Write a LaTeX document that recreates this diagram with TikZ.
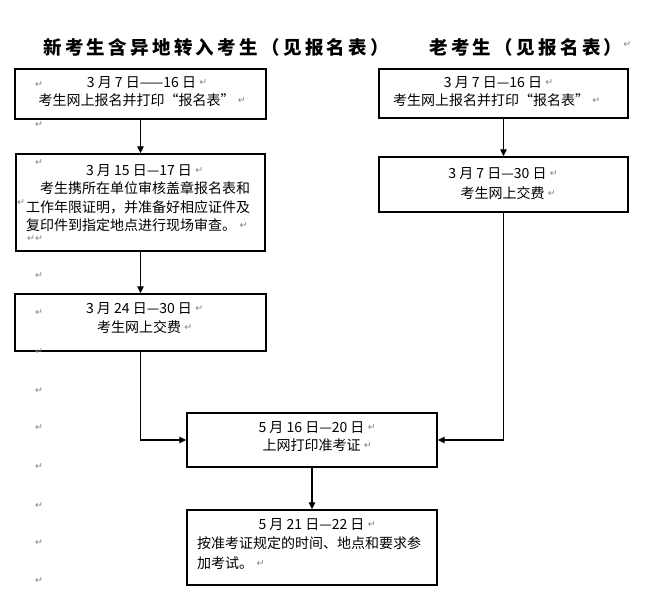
\documentclass[tikz,border=0pt]{standalone}
\usepackage{fontspec}
\setmainfont{Noto Sans CJK SC}
\newfontfamily\titlefont{Noto Sans CJK SC}[LetterSpace=18]
\newfontfamily\symfont{DejaVu Sans}
\usetikzlibrary{arrows.meta}
\definecolor{markgray}{RGB}{130,130,130}
\newcommand\retfont{\symfont\fontsize{9.5}{9.5}\selectfont}
\tikzset{
  box/.style={draw=black, line width=1.4pt, inner sep=0pt, fill=none},
  txt/.style={inner sep=0pt, text height=12.3pt, text depth=1.7pt, font=\fontsize{14}{14}\selectfont},
  ttl/.style={inner sep=0pt, anchor=west, font=\titlefont\bfseries\fontsize{18.5}{18.5}\selectfont},
  ret/.style={inner sep=0pt, text=markgray, font=\retfont},
  flow/.style={line width=1.3pt, -{Triangle[length=7pt,width=6.5pt]}}
}
\begin{document}
\begin{tikzpicture}[x=1pt,y=-1pt]
\useasboundingbox (0,0) rectangle (652,592);
% titles
\node[ttl] (t1) at (43,47) {新考生含异地转入考生（见报名表）};
\node[ttl] (t2) at (429,47) {老考生（见报名表）};
\node[ret, anchor=west] (t2r) at ([xshift=0.5pt,yshift=2pt]t2.east) {↵};
% boxes
\node[box, minimum width=251pt, minimum height=50pt] (L1) at (140.5,94) {};
\node[box, minimum width=249pt, minimum height=97pt] (L2) at (140.5,202.5) {};
\node[box, minimum width=251pt, minimum height=57pt] (L3) at (140.5,322.5) {};
\node[box, minimum width=249pt, minimum height=49pt] (R1) at (503.5,93.5) {};
\node[box, minimum width=249pt, minimum height=55pt] (R2) at (503.5,184.5) {};
\node[box, minimum width=250pt, minimum height=54pt] (B4) at (312,440) {};
\node[box, minimum width=250pt, minimum height=75pt] (B5) at (312,547.5) {};
% texts in L1
\node[txt] (l1a) at (141.5,82) {3 月 7 日——16 日};
\node[txt] (l1b) at (136.5,100) {考生网上报名并打印“报名表”};
% texts in R1
\node[txt] (r1a) at (493,82) {3 月 7 日—16 日};
\node[txt] (r1b) at (491,100) {考生网上报名并打印“报名表”};
% texts in R2
\node[txt] (r2a) at (497.5,173) {3 月 7 日—30 日};
\node[txt] (r2b) at (502.5,193) {考生网上交费};
% texts in L2
\node[txt] (l2a) at (139,170) {3 月 15 日—17 日};
\node[txt, anchor=west] (l2b) at (40,188) {考生携所在单位审核盖章报名表和};
\node[txt, anchor=west] (l2c) at (26,207) {工作年限证明，并准备好相应证件及};
\node[txt, anchor=west] (l2d) at (26,225) {复印件到指定地点进行现场审查。};
% texts in L3
\node[txt] (l3a) at (139,308) {3 月 24 日—30 日};
\node[txt] (l3b) at (139,327) {考生网上交费};
% texts in B4
\node[txt] (b4a) at (311.5,427) {5 月 16 日—20 日};
\node[txt] (b4b) at (311.5,445) {上网打印准考证};
% texts in B5
\node[txt] (b5a) at (311.5,524) {5 月 21 日—22 日};
\node[txt, anchor=west] (b5b) at (197,543) {按准考证规定的时间、地点和要求参};
\node[txt, anchor=west] (b5c) at (197,563) {加考试。};
% paragraph marks after lines
\foreach \n in {l1a,l1b,r1a,r1b,r2a,r2b,l2a,l2d,l3a,l3b,b4a,b4b,b5a,b5c}{
  \node[ret, anchor=west] (\n-r) at ([xshift=3pt,yshift=-1pt]\n.east) {↵};
}
% paragraph marks in the left margin
\foreach \y [count=\i] in {85,125,163,276,313,352,391,428,467,506,543,581}{
  \node[ret] (m\i) at (39,\y) {↵};
}
\node[ret] (mc) at (21,203) {↵};
\node[ret] (md) at (35,239) {↵↵};
% connectors
\draw[flow] (L1.south) -- (L2.north);
\draw[flow] (L2.south) -- (L3.north);
\draw[flow] (L3.south) |- (B4.west);
\draw[flow] (R1.south) -- (R2.north);
\draw[flow] (R2.south) |- (B4.east);
\draw[flow] (B4.south) -- (B5.north);
\end{tikzpicture}
\end{document}
